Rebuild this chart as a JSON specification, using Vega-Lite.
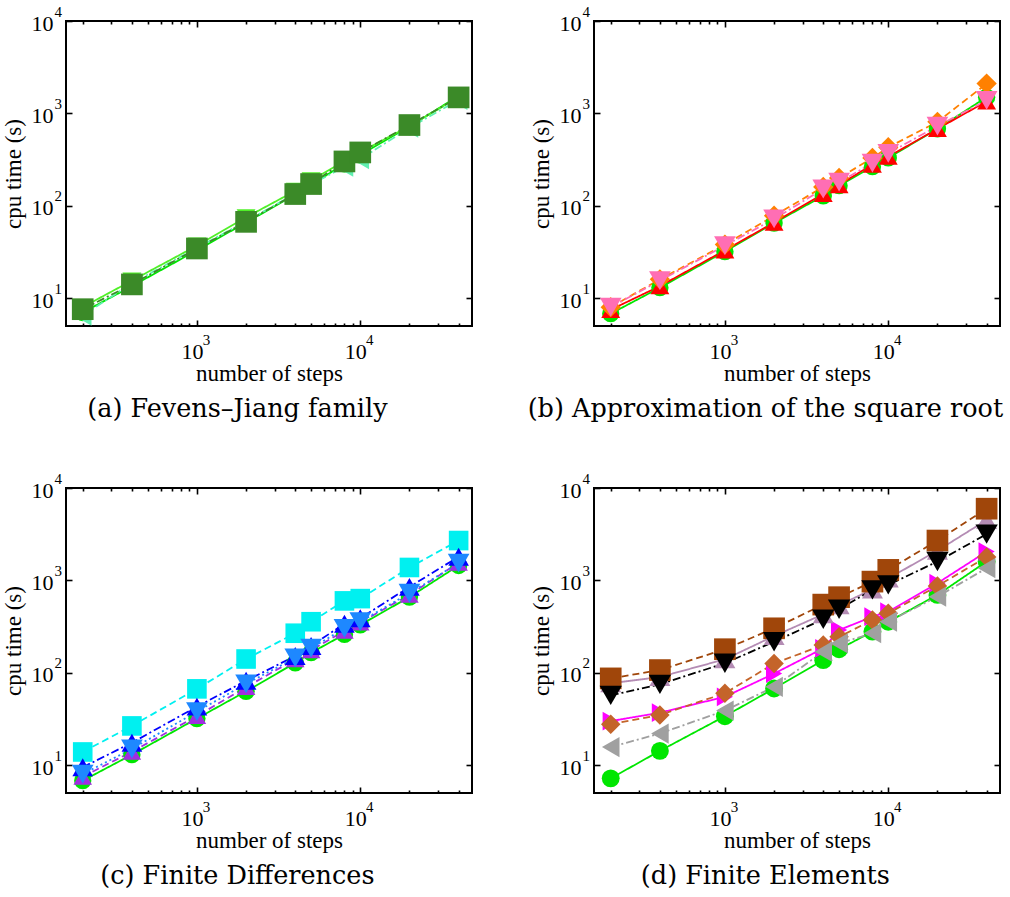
{
  "$schema": "https://vega.github.io/schema/vega-lite/v6.json",
  "background": "white",
  "padding": {"left": 1, "top": 3, "right": 5, "bottom": 2},
  "columns": 2,
  "spacing": {"row": 46, "column": 52},
  "config": {
    "view": {"stroke": "#000", "strokeWidth": 2},
    "axis": {"labelFont": "Liberation Serif", "titleFont": "Liberation Serif", "labelFontSize": 22, "titleFontSize": 23, "titleFontWeight": "normal", "labelColor": "#000", "titleColor": "#000", "ticks": true, "tickColor": "#000000", "tickOpacity": 1, "tickWidth": 1.6, "domain": false, "grid": false, "labelFlush": false, "labelOverlap": false, "labelBound": false},
    "axisBottom": {"offset": -6, "tickSize": 6, "labelPadding": 15, "labelBaseline": "top", "labelOffset": -5, "titlePadding": 0},
    "axisTop": {"offset": -6, "tickSize": 6, "labelFontSize": 15, "labelPadding": -318, "labelOffset": 9, "labelBaseline": "middle", "labelAlign": "center"},
    "axisLeft": {"offset": -6, "tickSize": 6, "labelPadding": 13, "labelOffset": 2, "titlePadding": 6},
    "axisRight": {"offset": -6, "tickSize": 6, "labelFontSize": 15, "labelPadding": -418, "labelOffset": -10, "labelAlign": "left", "labelBaseline": "middle"},
    "title": {"font": "DejaVu Serif", "fontSize": 25.5, "fontWeight": "normal", "color": "#000", "orient": "bottom", "frame": "bounds", "anchor": "middle", "offset": 12},
    "line": {"strokeWidth": 1.8},
    "point": {"filled": true, "opacity": 1, "strokeWidth": 0}
  },
  "resolve": {"scale": {"color": "independent", "shape": "independent", "strokeDash": "independent", "size": "independent", "x": "independent", "y": "independent"}},
  "datasets": {
    "a": [
      {"s": "circle", "n": 200, "t": 7}, {"s": "circle", "n": 400, "t": 13.5}, {"s": "circle", "n": 1000, "t": 33}, {"s": "circle", "n": 2000, "t": 66}, {"s": "circle", "n": 4000, "t": 132}, {"s": "circle", "n": 5000, "t": 168}, {"s": "circle", "n": 8000, "t": 285}, {"s": "circle", "n": 10000, "t": 355}, {"s": "circle", "n": 20000, "t": 720}, {"s": "circle", "n": 40000, "t": 1550},
      {"s": "tdown", "n": 200, "t": 8}, {"s": "tdown", "n": 400, "t": 15.5}, {"s": "tdown", "n": 1000, "t": 37}, {"s": "tdown", "n": 2000, "t": 75}, {"s": "tdown", "n": 4000, "t": 145}, {"s": "tdown", "n": 5000, "t": 188}, {"s": "tdown", "n": 8000, "t": 305}, {"s": "tdown", "n": 10000, "t": 380}, {"s": "tdown", "n": 20000, "t": 730}, {"s": "tdown", "n": 40000, "t": 1500},
      {"s": "tleft", "n": 200, "t": 6.5}, {"s": "tleft", "n": 400, "t": 14.5}, {"s": "tleft", "n": 1000, "t": 35}, {"s": "tleft", "n": 2000, "t": 68}, {"s": "tleft", "n": 4000, "t": 135}, {"s": "tleft", "n": 5000, "t": 170}, {"s": "tleft", "n": 8000, "t": 265}, {"s": "tleft", "n": 10000, "t": 320}, {"s": "tleft", "n": 20000, "t": 700}, {"s": "tleft", "n": 40000, "t": 1400},
      {"s": "square", "n": 200, "t": 7.6}, {"s": "square", "n": 400, "t": 14.1}, {"s": "square", "n": 1000, "t": 34.5}, {"s": "square", "n": 2000, "t": 67}, {"s": "square", "n": 4000, "t": 134}, {"s": "square", "n": 5000, "t": 172}, {"s": "square", "n": 8000, "t": 302}, {"s": "square", "n": 10000, "t": 378}, {"s": "square", "n": 20000, "t": 748}, {"s": "square", "n": 40000, "t": 1490}
    ],
    "b": [
      {"s": "circle", "n": 200, "t": 6.8}, {"s": "circle", "n": 400, "t": 13}, {"s": "circle", "n": 1000, "t": 32}, {"s": "circle", "n": 2000, "t": 65}, {"s": "circle", "n": 4000, "t": 128}, {"s": "circle", "n": 5000, "t": 165}, {"s": "circle", "n": 8000, "t": 265}, {"s": "circle", "n": 10000, "t": 330}, {"s": "circle", "n": 20000, "t": 680}, {"s": "circle", "n": 40000, "t": 1500},
      {"s": "tup", "n": 200, "t": 7.5}, {"s": "tup", "n": 400, "t": 13.5}, {"s": "tup", "n": 1000, "t": 33}, {"s": "tup", "n": 2000, "t": 66}, {"s": "tup", "n": 4000, "t": 135}, {"s": "tup", "n": 5000, "t": 168}, {"s": "tup", "n": 8000, "t": 280}, {"s": "tup", "n": 10000, "t": 340}, {"s": "tup", "n": 20000, "t": 680}, {"s": "tup", "n": 40000, "t": 1350},
      {"s": "diamond", "n": 200, "t": 8}, {"s": "diamond", "n": 400, "t": 16}, {"s": "diamond", "n": 1000, "t": 38}, {"s": "diamond", "n": 2000, "t": 78}, {"s": "diamond", "n": 4000, "t": 160}, {"s": "diamond", "n": 5000, "t": 200}, {"s": "diamond", "n": 8000, "t": 330}, {"s": "diamond", "n": 10000, "t": 430}, {"s": "diamond", "n": 20000, "t": 810}, {"s": "diamond", "n": 40000, "t": 2100},
      {"s": "tdown", "n": 200, "t": 8}, {"s": "tdown", "n": 400, "t": 15.5}, {"s": "tdown", "n": 1000, "t": 37}, {"s": "tdown", "n": 2000, "t": 72}, {"s": "tdown", "n": 4000, "t": 152}, {"s": "tdown", "n": 5000, "t": 180}, {"s": "tdown", "n": 8000, "t": 290}, {"s": "tdown", "n": 10000, "t": 370}, {"s": "tdown", "n": 20000, "t": 730}, {"s": "tdown", "n": 40000, "t": 1380}
    ],
    "c": [
      {"s": "circle", "n": 200, "t": 6.8}, {"s": "circle", "n": 400, "t": 13}, {"s": "circle", "n": 1000, "t": 32}, {"s": "circle", "n": 2000, "t": 63}, {"s": "circle", "n": 4000, "t": 128}, {"s": "circle", "n": 5000, "t": 165}, {"s": "circle", "n": 8000, "t": 260}, {"s": "circle", "n": 10000, "t": 330}, {"s": "circle", "n": 20000, "t": 660}, {"s": "circle", "n": 40000, "t": 1450},
      {"s": "tup", "n": 200, "t": 7.5}, {"s": "tup", "n": 400, "t": 14}, {"s": "tup", "n": 1000, "t": 34}, {"s": "tup", "n": 2000, "t": 70}, {"s": "tup", "n": 4000, "t": 140}, {"s": "tup", "n": 5000, "t": 175}, {"s": "tup", "n": 8000, "t": 285}, {"s": "tup", "n": 10000, "t": 350}, {"s": "tup", "n": 20000, "t": 700}, {"s": "tup", "n": 40000, "t": 1550},
      {"s": "square", "n": 200, "t": 13.9}, {"s": "square", "n": 400, "t": 26.6}, {"s": "square", "n": 1000, "t": 67}, {"s": "square", "n": 2000, "t": 141}, {"s": "square", "n": 4000, "t": 268}, {"s": "square", "n": 5000, "t": 357}, {"s": "square", "n": 8000, "t": 600}, {"s": "square", "n": 10000, "t": 635}, {"s": "square", "n": 20000, "t": 1380}, {"s": "square", "n": 40000, "t": 2700},
      {"s": "tup2", "n": 200, "t": 9.5}, {"s": "tup2", "n": 400, "t": 17.5}, {"s": "tup2", "n": 1000, "t": 43}, {"s": "tup2", "n": 2000, "t": 82}, {"s": "tup2", "n": 4000, "t": 152}, {"s": "tup2", "n": 5000, "t": 195}, {"s": "tup2", "n": 8000, "t": 340}, {"s": "tup2", "n": 10000, "t": 390}, {"s": "tup2", "n": 20000, "t": 850}, {"s": "tup2", "n": 40000, "t": 1800},
      {"s": "tdown", "n": 200, "t": 8}, {"s": "tdown", "n": 400, "t": 15}, {"s": "tdown", "n": 1000, "t": 38}, {"s": "tdown", "n": 2000, "t": 76}, {"s": "tdown", "n": 4000, "t": 145}, {"s": "tdown", "n": 5000, "t": 185}, {"s": "tdown", "n": 8000, "t": 302}, {"s": "tdown", "n": 10000, "t": 357}, {"s": "tdown", "n": 20000, "t": 726}, {"s": "tdown", "n": 40000, "t": 1540}
    ],
    "d": [
      {"s": "circle", "n": 200, "t": 7.2}, {"s": "circle", "n": 400, "t": 14.3}, {"s": "circle", "n": 1000, "t": 33.9}, {"s": "circle", "n": 2000, "t": 67.6}, {"s": "circle", "n": 4000, "t": 137}, {"s": "circle", "n": 5000, "t": 180}, {"s": "circle", "n": 8000, "t": 279}, {"s": "circle", "n": 10000, "t": 357}, {"s": "circle", "n": 20000, "t": 697}, {"s": "circle", "n": 40000, "t": 1600},
      {"s": "tright", "n": 200, "t": 30}, {"s": "tright", "n": 400, "t": 37}, {"s": "tright", "n": 1000, "t": 55}, {"s": "tright", "n": 2000, "t": 98}, {"s": "tright", "n": 4000, "t": 184}, {"s": "tright", "n": 5000, "t": 290}, {"s": "tright", "n": 8000, "t": 405}, {"s": "tright", "n": 10000, "t": 459}, {"s": "tright", "n": 20000, "t": 933}, {"s": "tright", "n": 40000, "t": 2050},
      {"s": "diamond", "n": 200, "t": 27.8}, {"s": "diamond", "n": 400, "t": 35}, {"s": "diamond", "n": 1000, "t": 60}, {"s": "diamond", "n": 2000, "t": 126}, {"s": "diamond", "n": 4000, "t": 200}, {"s": "diamond", "n": 5000, "t": 245}, {"s": "diamond", "n": 8000, "t": 373}, {"s": "diamond", "n": 10000, "t": 440}, {"s": "diamond", "n": 20000, "t": 871}, {"s": "diamond", "n": 40000, "t": 1790},
      {"s": "tleft", "n": 200, "t": 15.7}, {"s": "tleft", "n": 400, "t": 22}, {"s": "tleft", "n": 1000, "t": 39}, {"s": "tleft", "n": 2000, "t": 70.5}, {"s": "tleft", "n": 4000, "t": 169}, {"s": "tleft", "n": 5000, "t": 208}, {"s": "tleft", "n": 8000, "t": 268}, {"s": "tleft", "n": 10000, "t": 357}, {"s": "tleft", "n": 20000, "t": 667}, {"s": "tleft", "n": 40000, "t": 1355},
      {"s": "tup", "n": 200, "t": 77}, {"s": "tup", "n": 400, "t": 90}, {"s": "tup", "n": 1000, "t": 140}, {"s": "tup", "n": 2000, "t": 250}, {"s": "tup", "n": 4000, "t": 430}, {"s": "tup", "n": 5000, "t": 540}, {"s": "tup", "n": 8000, "t": 800}, {"s": "tup", "n": 10000, "t": 1050}, {"s": "tup", "n": 20000, "t": 2100}, {"s": "tup", "n": 40000, "t": 4500},
      {"s": "square", "n": 200, "t": 87}, {"s": "square", "n": 400, "t": 107}, {"s": "square", "n": 1000, "t": 180}, {"s": "square", "n": 2000, "t": 303}, {"s": "square", "n": 4000, "t": 547}, {"s": "square", "n": 5000, "t": 658}, {"s": "square", "n": 8000, "t": 970}, {"s": "square", "n": 10000, "t": 1300}, {"s": "square", "n": 20000, "t": 2700}, {"s": "square", "n": 40000, "t": 5970},
      {"s": "tdown", "n": 200, "t": 57}, {"s": "tdown", "n": 400, "t": 75}, {"s": "tdown", "n": 1000, "t": 127}, {"s": "tdown", "n": 2000, "t": 217}, {"s": "tdown", "n": 4000, "t": 380}, {"s": "tdown", "n": 5000, "t": 487}, {"s": "tdown", "n": 8000, "t": 790}, {"s": "tdown", "n": 10000, "t": 894}, {"s": "tdown", "n": 20000, "t": 1600}, {"s": "tdown", "n": 40000, "t": 3170}
    ]
  },
  "concat": [
    {
      "width": 406, "height": 305,
      "data": {"name": "a"},
      "title": {"text": "(a) Fevens–Jiang family"},
      "layer": [
        {
          "mark": {"type": "line", "clip": true},
          "encoding": {
            "x": {"field": "n", "type": "quantitative", "scale": {"type": "log", "domain": [158, 48300], "nice": false}, "axis": {"orient": "bottom", "title": "number of steps", "values": [200, 300, 400, 500, 600, 700, 800, 900, 1000, 2000, 3000, 4000, 5000, 6000, 7000, 8000, 9000, 10000, 20000, 30000, 40000], "labelExpr": "datum.value == 1000 || datum.value == 10000 ? '10' : ''", "tickDash": {"condition": {"test": "datum.value == 1000 || datum.value == 10000", "value": [1, 0]}, "value": [0, 3, 3, 0]}}},
            "y": {"field": "t", "type": "quantitative", "scale": {"type": "log", "domain": [5, 10000], "nice": false}, "axis": {"orient": "left", "title": "cpu time (s)", "values": [10, 100, 1000, 10000], "labelExpr": "'10'"}},
            "color": {"field": "s", "type": "nominal", "legend": null, "scale": {"domain": ["circle", "tdown", "tleft", "square"], "range": ["#00e600", "#50f028", "#60f0b0", "#3b8a28"]}},
            "strokeDash": {"field": "s", "type": "nominal", "legend": null, "scale": {"domain": ["circle", "tdown", "tleft", "square"], "range": [[1, 0], [1, 0], [8, 3, 2, 3], [8, 3, 2, 3]]}}
          }
        },
        {
          "mark": {"type": "point"},
          "encoding": {
            "x": {"field": "n", "type": "quantitative", "axis": null},
            "y": {"field": "t", "type": "quantitative", "axis": null},
            "color": {"field": "s", "type": "nominal", "legend": null},
            "shape": {"field": "s", "type": "nominal", "legend": null, "scale": {"domain": ["circle", "tdown", "tleft", "square"], "range": ["circle", "triangle-down", "triangle-left", "square"]}},
            "size": {"field": "s", "type": "nominal", "legend": null, "scale": {"domain": ["circle", "tdown", "tleft", "square"], "range": [300, 470, 470, 250]}}
          }
        },
        {
          "mark": {"type": "point", "opacity": 0},
          "encoding": {
            "x": {"field": "n", "type": "quantitative", "axis": {"orient": "top", "title": null, "values": [200, 300, 400, 500, 600, 700, 800, 900, 1000, 2000, 3000, 4000, 5000, 6000, 7000, 8000, 9000, 10000, 20000, 30000, 40000], "labelExpr": "datum.value == 1000 ? '3' : datum.value == 10000 ? '4' : ''", "tickDash": {"condition": {"test": "datum.value == 1000 || datum.value == 10000", "value": [1, 0]}, "value": [0, 3, 3, 0]}}},
            "y": {"field": "t", "type": "quantitative", "axis": {"orient": "right", "title": null, "values": [10, 100, 1000, 10000], "labelExpr": "datum.value == 10 ? '1' : datum.value == 100 ? '2' : datum.value == 1000 ? '3' : '4'"}}
          }
        }
      ],
      "resolve": {"axis": {"x": "independent", "y": "independent"}}
    },
    {
      "width": 406, "height": 305,
      "data": {"name": "b"},
      "title": {"text": "(b) Approximation of the square root"},
      "layer": [
        {
          "mark": {"type": "line", "clip": true},
          "encoding": {
            "x": {"field": "n", "type": "quantitative", "scale": {"type": "log", "domain": [158, 48300], "nice": false}, "axis": {"orient": "bottom", "title": "number of steps", "values": [200, 300, 400, 500, 600, 700, 800, 900, 1000, 2000, 3000, 4000, 5000, 6000, 7000, 8000, 9000, 10000, 20000, 30000, 40000], "labelExpr": "datum.value == 1000 || datum.value == 10000 ? '10' : ''", "tickDash": {"condition": {"test": "datum.value == 1000 || datum.value == 10000", "value": [1, 0]}, "value": [0, 3, 3, 0]}}},
            "y": {"field": "t", "type": "quantitative", "scale": {"type": "log", "domain": [5, 10000], "nice": false}, "axis": {"orient": "left", "title": "cpu time (s)", "values": [10, 100, 1000, 10000], "labelExpr": "'10'"}},
            "color": {"field": "s", "type": "nominal", "legend": null, "scale": {"domain": ["circle", "tup", "diamond", "tdown"], "range": ["#00e600", "#ff0000", "#ff8000", "#ff6eb4"]}},
            "strokeDash": {"field": "s", "type": "nominal", "legend": null, "scale": {"domain": ["circle", "tup", "diamond", "tdown"], "range": [[1, 0], [1, 0], [7, 4], [8, 3, 2, 3]]}}
          }
        },
        {
          "mark": {"type": "point"},
          "encoding": {
            "x": {"field": "n", "type": "quantitative", "axis": null},
            "y": {"field": "t", "type": "quantitative", "axis": null},
            "color": {"field": "s", "type": "nominal", "legend": null},
            "shape": {"field": "s", "type": "nominal", "legend": null, "scale": {"domain": ["circle", "tup", "diamond", "tdown"], "range": ["circle", "triangle-up", "diamond", "triangle-down"]}},
            "size": {"field": "s", "type": "nominal", "legend": null, "scale": {"domain": ["circle", "tup", "diamond", "tdown"], "range": [300, 470, 420, 500]}}
          }
        },
        {
          "mark": {"type": "point", "opacity": 0},
          "encoding": {
            "x": {"field": "n", "type": "quantitative", "axis": {"orient": "top", "title": null, "values": [200, 300, 400, 500, 600, 700, 800, 900, 1000, 2000, 3000, 4000, 5000, 6000, 7000, 8000, 9000, 10000, 20000, 30000, 40000], "labelExpr": "datum.value == 1000 ? '3' : datum.value == 10000 ? '4' : ''", "tickDash": {"condition": {"test": "datum.value == 1000 || datum.value == 10000", "value": [1, 0]}, "value": [0, 3, 3, 0]}}},
            "y": {"field": "t", "type": "quantitative", "axis": {"orient": "right", "title": null, "values": [10, 100, 1000, 10000], "labelExpr": "datum.value == 10 ? '1' : datum.value == 100 ? '2' : datum.value == 1000 ? '3' : '4'"}}
          }
        }
      ],
      "resolve": {"axis": {"x": "independent", "y": "independent"}}
    },
    {
      "width": 406, "height": 305,
      "data": {"name": "c"},
      "title": {"text": "(c) Finite Differences"},
      "layer": [
        {
          "mark": {"type": "line", "clip": true},
          "encoding": {
            "x": {"field": "n", "type": "quantitative", "scale": {"type": "log", "domain": [158, 48300], "nice": false}, "axis": {"orient": "bottom", "title": "number of steps", "values": [200, 300, 400, 500, 600, 700, 800, 900, 1000, 2000, 3000, 4000, 5000, 6000, 7000, 8000, 9000, 10000, 20000, 30000, 40000], "labelExpr": "datum.value == 1000 || datum.value == 10000 ? '10' : ''", "tickDash": {"condition": {"test": "datum.value == 1000 || datum.value == 10000", "value": [1, 0]}, "value": [0, 3, 3, 0]}}},
            "y": {"field": "t", "type": "quantitative", "scale": {"type": "log", "domain": [5, 10000], "nice": false}, "axis": {"orient": "left", "title": "cpu time (s)", "values": [10, 100, 1000, 10000], "labelExpr": "'10'"}},
            "color": {"field": "s", "type": "nominal", "legend": null, "scale": {"domain": ["circle", "tup", "square", "tup2", "tdown"], "range": ["#00e600", "#a02ee0", "#00f0f0", "#0000ff", "#1e88ff"]}},
            "strokeDash": {"field": "s", "type": "nominal", "legend": null, "scale": {"domain": ["circle", "tup", "square", "tup2", "tdown"], "range": [[1, 0], [7, 4], [7, 4], [8, 3, 2, 3], [2, 3]]}}
          }
        },
        {
          "mark": {"type": "point"},
          "encoding": {
            "x": {"field": "n", "type": "quantitative", "axis": null},
            "y": {"field": "t", "type": "quantitative", "axis": null},
            "color": {"field": "s", "type": "nominal", "legend": null},
            "shape": {"field": "s", "type": "nominal", "legend": null, "scale": {"domain": ["circle", "tup", "square", "tup2", "tdown"], "range": ["circle", "triangle-up", "square", "triangle-up", "triangle-down"]}},
            "size": {"field": "s", "type": "nominal", "legend": null, "scale": {"domain": ["circle", "tup", "square", "tup2", "tdown"], "range": [300, 470, 250, 470, 500]}}
          }
        },
        {
          "mark": {"type": "point", "opacity": 0},
          "encoding": {
            "x": {"field": "n", "type": "quantitative", "axis": {"orient": "top", "title": null, "values": [200, 300, 400, 500, 600, 700, 800, 900, 1000, 2000, 3000, 4000, 5000, 6000, 7000, 8000, 9000, 10000, 20000, 30000, 40000], "labelExpr": "datum.value == 1000 ? '3' : datum.value == 10000 ? '4' : ''", "tickDash": {"condition": {"test": "datum.value == 1000 || datum.value == 10000", "value": [1, 0]}, "value": [0, 3, 3, 0]}}},
            "y": {"field": "t", "type": "quantitative", "axis": {"orient": "right", "title": null, "values": [10, 100, 1000, 10000], "labelExpr": "datum.value == 10 ? '1' : datum.value == 100 ? '2' : datum.value == 1000 ? '3' : '4'"}}
          }
        }
      ],
      "resolve": {"axis": {"x": "independent", "y": "independent"}}
    },
    {
      "width": 406, "height": 305,
      "data": {"name": "d"},
      "title": {"text": "(d) Finite Elements"},
      "layer": [
        {
          "mark": {"type": "line", "clip": true},
          "encoding": {
            "x": {"field": "n", "type": "quantitative", "scale": {"type": "log", "domain": [158, 48300], "nice": false}, "axis": {"orient": "bottom", "title": "number of steps", "values": [200, 300, 400, 500, 600, 700, 800, 900, 1000, 2000, 3000, 4000, 5000, 6000, 7000, 8000, 9000, 10000, 20000, 30000, 40000], "labelExpr": "datum.value == 1000 || datum.value == 10000 ? '10' : ''", "tickDash": {"condition": {"test": "datum.value == 1000 || datum.value == 10000", "value": [1, 0]}, "value": [0, 3, 3, 0]}}},
            "y": {"field": "t", "type": "quantitative", "scale": {"type": "log", "domain": [5, 10000], "nice": false}, "axis": {"orient": "left", "title": "cpu time (s)", "values": [10, 100, 1000, 10000], "labelExpr": "'10'"}},
            "color": {"field": "s", "type": "nominal", "legend": null, "scale": {"domain": ["circle", "tright", "diamond", "tleft", "tup", "square", "tdown"], "range": ["#00e600", "#ff00ff", "#c4642a", "#a0a0a0", "#b48cb4", "#a0460a", "#000000"]}},
            "strokeDash": {"field": "s", "type": "nominal", "legend": null, "scale": {"domain": ["circle", "tright", "diamond", "tleft", "tup", "square", "tdown"], "range": [[1, 0], [1, 0], [7, 4], [8, 3, 2, 3], [1, 0], [7, 4], [8, 3, 2, 3]]}}
          }
        },
        {
          "mark": {"type": "point"},
          "encoding": {
            "x": {"field": "n", "type": "quantitative", "axis": null},
            "y": {"field": "t", "type": "quantitative", "axis": null},
            "color": {"field": "s", "type": "nominal", "legend": null},
            "shape": {"field": "s", "type": "nominal", "legend": null, "scale": {"domain": ["circle", "tright", "diamond", "tleft", "tup", "square", "tdown"], "range": ["circle", "triangle-right", "diamond", "triangle-left", "triangle-up", "square", "triangle-down"]}},
            "size": {"field": "s", "type": "nominal", "legend": null, "scale": {"domain": ["circle", "tright", "diamond", "tleft", "tup", "square", "tdown"], "range": [320, 500, 420, 500, 470, 250, 500]}}
          }
        },
        {
          "mark": {"type": "point", "opacity": 0},
          "encoding": {
            "x": {"field": "n", "type": "quantitative", "axis": {"orient": "top", "title": null, "values": [200, 300, 400, 500, 600, 700, 800, 900, 1000, 2000, 3000, 4000, 5000, 6000, 7000, 8000, 9000, 10000, 20000, 30000, 40000], "labelExpr": "datum.value == 1000 ? '3' : datum.value == 10000 ? '4' : ''", "tickDash": {"condition": {"test": "datum.value == 1000 || datum.value == 10000", "value": [1, 0]}, "value": [0, 3, 3, 0]}}},
            "y": {"field": "t", "type": "quantitative", "axis": {"orient": "right", "title": null, "values": [10, 100, 1000, 10000], "labelExpr": "datum.value == 10 ? '1' : datum.value == 100 ? '2' : datum.value == 1000 ? '3' : '4'"}}
          }
        }
      ],
      "resolve": {"axis": {"x": "independent", "y": "independent"}}
    }
  ]
}
